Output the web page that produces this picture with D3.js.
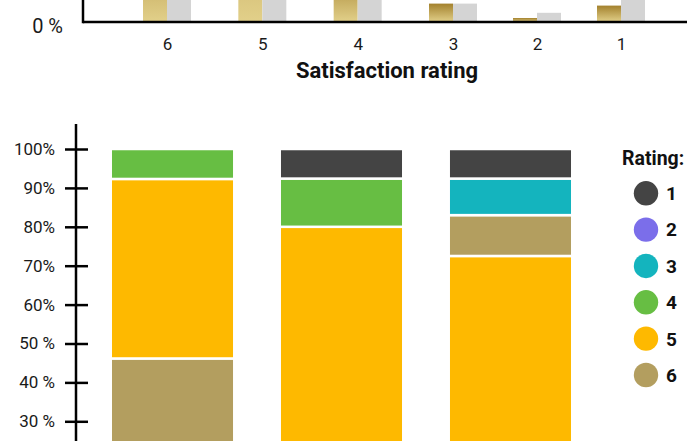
<!DOCTYPE html>
<html lang="en">
<head>
<meta charset="utf-8">
<title>Satisfaction rating</title>
<script src="https://d3js.org/d3.v7.min.js"></script>
<style>
  body { margin: 0; background: #fff; }
  svg { display: block; }
  .lbl { font-family: Roboto, "Noto Sans", sans-serif; font-size: 17px; fill: #1a1a1a; }
  .bold { font-family: Roboto, "Noto Sans", sans-serif; font-weight: bold; fill: #111; }
</style>
</head>
<body>
<script>
const w = 687, h = 441

// top chart: share of answers per rating (gold = us, gray = benchmark)
const ratings = ["6", "5", "4", "3", "2", "1"]
const ourShare = [0.26, 0.52, 0.124, 0.046, 0.010, 0.041]
const benchShare = [0.22, 0.41, 0.24, 0.046, 0.023, 0.061]

// bottom chart: share of each rating per team
const teams = ["A", "B", "C"]
const legendRatings = ["1", "2", "3", "4", "5", "6"]
const ratingColors = ["#444444", "#7b6eea", "#14b4be", "#67be43", "#feb900", "#b39e5f"]
const teamShares = [
  [0, 0, 0, 0.077, 0.4615, 0.4615],
  [0.076, 0, 0, 0.124, 0.800, 0],
  [0.076, 0, 0.094, 0, 0.725, 0.105]
]
const yTicks = [0.3, 0.4, 0.5, 0.6, 0.7, 0.8, 0.9, 1.0]
const yTickLabels = ["30 %", "40 %", "50 %", "60%", "70%", "80%", "90%", "100%"]

const svg = d3.select("body").append("svg")
  .attr("width", w)
  .attr("height", h)

const defs = svg.append("defs")
const grad = defs.append("linearGradient")
  .attr("id", "gold")
  .attr("x1", 0).attr("y1", 0).attr("x2", 0).attr("y2", 1)
grad.append("stop").attr("offset", 0).attr("stop-color", "#a3812d")
grad.append("stop").attr("offset", 1).attr("stop-color", "#e2d08a")

// ---------- top chart (only its bottom is in view) ----------
const base = 22
const xTop = d3.scaleLinear().domain([6, 3, 1]).range([167, 453, 621])
const yTop = d3.scaleLinear().domain([0, 0.1]).range([base, base - 40])
const barW = 24

const topChart = svg.append("g")

topChart.selectAll("rect.ours")
  .data(ratings)
  .enter()
  .append("rect")
  .attr("class", "ours")
  .attr("x", (d) => xTop(+d) - barW)
  .attr("y", (d, i) => yTop(ourShare[i]))
  .attr("width", barW)
  .attr("height", (d, i) => base - yTop(ourShare[i]))
  .attr("fill", "url(#gold)")

topChart.selectAll("rect.bench")
  .data(ratings)
  .enter()
  .append("rect")
  .attr("class", "bench")
  .attr("x", (d) => xTop(+d))
  .attr("y", (d, i) => yTop(benchShare[i]))
  .attr("width", barW)
  .attr("height", (d, i) => base - yTop(benchShare[i]))
  .attr("fill", "#d4d4d4")

topChart.append("line")
  .attr("x1", 83).attr("x2", 83)
  .attr("y1", -5).attr("y2", base + 1.25)
  .attr("stroke", "#000").attr("stroke-width", 2.5)
topChart.append("line")
  .attr("x1", 83).attr("x2", w + 5)
  .attr("y1", base).attr("y2", base)
  .attr("stroke", "#000").attr("stroke-width", 2.5)

topChart.append("text")
  .attr("class", "lbl")
  .attr("x", 63).attr("y", yTop(0) + 3.5)
  .attr("dy", "0.35em")
  .attr("text-anchor", "end")
  .style("font-size", "20px")
  .text("0 %")

const xAxisTop = topChart.append("g")
  .attr("transform", `translate(0,${base})`)
  .call(d3.axisBottom(xTop).tickValues(ratings.map(Number)).tickSize(0).tickPadding(16).tickFormat(d3.format("d")))
xAxisTop.select(".domain").remove()
xAxisTop.selectAll("text")
  .attr("class", "lbl")
  .attr("font-size", null).attr("font-family", null).attr("fill", null)

topChart.append("text")
  .attr("class", "bold")
  .attr("x", 387).attr("y", 78)
  .attr("text-anchor", "middle")
  .attr("font-size", 22)
  .text("Satisfaction rating")

// ---------- bottom chart ----------
const xb = d3.scaleBand().domain(teams).range([88, 595]).paddingInner(0.269).paddingOuter(0.1346)
const yb = d3.scaleLinear().domain([0, 1]).range([538, 149])

// stack each bar biggest share first, from the bottom
const stacks = teamShares.map((vals, t) => {
  const order = d3.range(vals.length)
    .filter((i) => vals[i] > 0)
    .sort((a, b) => (vals[b] - vals[a]) || (b - a))
  let acc = 0
  return order.map((i) => {
    const seg = { team: teams[t], rating: i, y0: acc, y1: acc + vals[i] }
    acc += vals[i]
    return seg
  })
})

svg.selectAll("rect.seg")
  .data(stacks.flat())
  .enter()
  .append("rect")
  .attr("class", "seg")
  .attr("x", (d) => xb(d.team))
  .attr("y", (d) => yb(d.y1))
  .attr("width", xb.bandwidth())
  .attr("height", (d) => yb(d.y0) - yb(d.y1))
  .attr("fill", (d) => ratingColors[d.rating])
  .attr("stroke", "#fff")
  .attr("stroke-width", 2.5)

const yAxis = svg.append("g")
  .attr("transform", "translate(76,0)")
  .call(d3.axisLeft(yb).tickValues(yTicks).tickSize(11).tickFormat((d, i) => yTickLabels[i]))
yAxis.select(".domain").remove()
yAxis.selectAll(".tick line")
  .attr("x1", -11).attr("x2", 12)
  .attr("stroke", "#000").attr("stroke-width", 2.5)
yAxis.selectAll(".tick text")
  .attr("class", "lbl")
  .attr("x", -21)
  .attr("font-size", null).attr("font-family", null).attr("fill", null)
yAxis.append("line")
  .attr("x1", 0).attr("x2", 0)
  .attr("y1", 124).attr("y2", h + 5)
  .attr("stroke", "#000").attr("stroke-width", 2.5)

// legend
const legend = svg.append("g")
legend.append("text")
  .attr("class", "bold")
  .attr("x", 622).attr("y", 165)
  .attr("font-size", 19.5)
  .text("Rating:")

const legendY = d3.scalePoint().domain(legendRatings).range([193.3, 375])

legend.selectAll("circle")
  .data(legendRatings)
  .enter()
  .append("circle")
  .attr("cx", 646)
  .attr("cy", (d) => legendY(d))
  .attr("r", 12.2)
  .attr("fill", (d, i) => ratingColors[i])

legend.selectAll("text.key")
  .data(legendRatings)
  .enter()
  .append("text")
  .attr("class", "bold key")
  .attr("x", 666)
  .attr("y", (d) => legendY(d))
  .attr("dy", "0.36em")
  .attr("font-size", 19)
  .text((d) => d)
</script>
</body>
</html>
